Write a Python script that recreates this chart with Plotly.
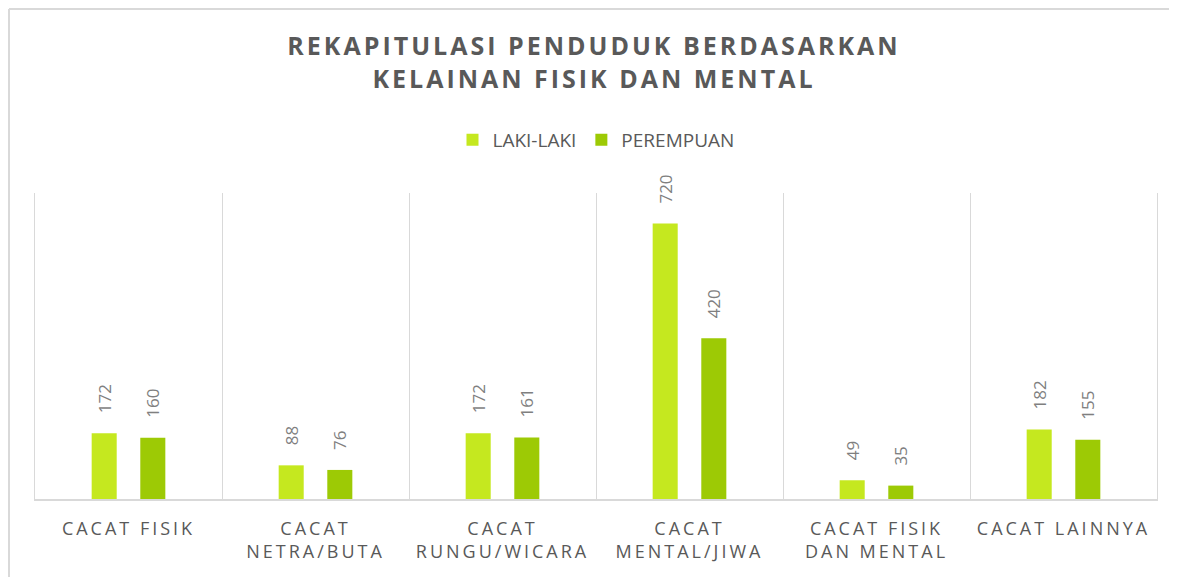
import plotly.graph_objects as go

# data
categories = [
    'CACAT FISIK',
    'CACAT<br>NETRA/BUTA',
    'CACAT<br>RUNGU/WICARA',
    'CACAT<br>MENTAL/JIWA',
    'CACAT FISIK<br>DAN MENTAL',
    'CACAT LAINNYA',
]
laki_laki = [172, 88, 172, 720, 49, 182]
perempuan = [160, 76, 161, 420, 35, 155]
series_names = ['LAKI-LAKI', 'PEREMPUAN']
title_lines = ['REKAPITULASI PENDUDUK BERDASARKAN', 'KELAINAN FISIK DAN MENTAL']

# page body has an 8px margin, so the figure is a bit smaller than the window
W, H = 1169, 569
ML, MR, MT, MB = 27, 20, 185, 78
GRID = '#d9d9d9'
TXT = '#595959'


def spaced(s, px):
    return '<br>'.join(f'<span style="letter-spacing:{px}px">{part}</span>'
                       for part in s.split('<br>'))


fig = go.Figure()
for name, vals, col in [(series_names[0], laki_laki, '#c5e81f'),
                        (series_names[1], perempuan, '#9dca05')]:
    fig.add_trace(go.Bar(
        x=categories, y=vals, name=name,
        marker=dict(color=col, line=dict(width=0)),
        text=vals, texttemplate='\u2002\u2002%{y}',
        textposition='outside', textangle=-90, constraintext='none',
        textfont=dict(family='Open Sans', size=17, color='#7f7f7f'),
        cliponaxis=False,
    ))

# frame of the chart (top / left edges visible in the reference)
pw = W - ML - MR
ph = H - MT - MB
x_left = (1 - ML) / pw
y_top = (H - MB - 1) / ph
fig.add_shape(type='line', xref='paper', yref='paper',
              x0=x_left, x1=(W - ML) / pw, y0=y_top, y1=y_top,
              line=dict(color=GRID, width=2))
fig.add_shape(type='line', xref='paper', yref='paper',
              x0=x_left, x1=x_left, y0=-MB / ph, y1=y_top,
              line=dict(color=GRID, width=2))

fig.update_layout(
    width=W, height=H,
    margin=dict(l=ML, r=MR, t=MT, b=MB),
    paper_bgcolor='white', plot_bgcolor='white',
    barmode='group', bargap=0.48, bargroupgap=0.485,
    title=dict(
        text=spaced('<br>'.join(title_lines), 3),
        x=586 / W, xanchor='center', y=1 - 47 / H, yanchor='top',
        font=dict(family='Open Sans', size=25, color=TXT, weight='bold'),
    ),
    legend=dict(
        orientation='h', x=0.5, xanchor='center', y=(H - MB - 132) / ph, yanchor='middle',
        font=dict(family='Open Sans', size=19, color=TXT),
        traceorder='normal',
    ),
    font=dict(family='Open Sans', color=TXT),
)
fig.update_xaxes(
    type='category', tickson='boundaries', showgrid=True, gridcolor=GRID, gridwidth=1,
    showline=True, linecolor=GRID, linewidth=2, ticks='', ticklabelstandoff=12,
    tickfont=dict(family='Open Sans', size=18, color=TXT),
    tickvals=categories, ticktext=[spaced(c, 3) for c in categories],
)
fig.update_yaxes(
    range=[0, 800], showticklabels=False, showgrid=False, zeroline=False,
    showline=True, mirror=True, linecolor=GRID, linewidth=1, ticks='',
)

fig.write_html('out.html')
